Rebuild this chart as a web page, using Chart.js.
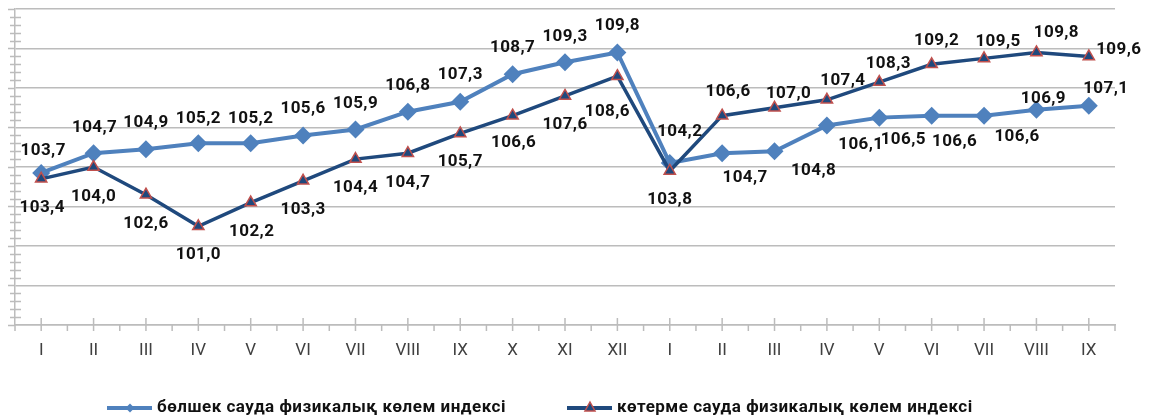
<!DOCTYPE html>
<html><head><meta charset="utf-8">
<script src="https://cdn.jsdelivr.net/npm/chart.js@4.4.1/dist/chart.umd.min.js"></script>
<style>html,body{margin:0;padding:0;background:#fff;}#wrap{width:1154px;height:419px;}</style>
</head><body><div id="wrap"><canvas id="c" width="1154" height="419"></canvas></div>
<script>
const categories = ['I','II','III','IV','V','VI','VII','VIII','IX','X','XI','XII','I','II','III','IV','V','VI','VII','VIII','IX'];
const retailIndex = [103.7,104.7,104.9,105.2,105.2,105.6,105.9,106.8,107.3,108.7,109.3,109.8,104.2,104.7,104.8,106.1,106.5,106.6,106.6,106.9,107.1];
const wholesaleIndex = [103.4,104.0,102.6,101.0,102.2,103.3,104.4,104.7,105.7,106.6,107.6,108.6,103.8,106.6,107.0,107.4,108.3,109.2,109.5,109.8,109.6];
const seriesNames = ['бөлшек сауда физикалық көлем индексі','көтерме сауда физикалық көлем индексі'];
const yMin = 96, yMax = 112, yStep = 2, yMinorStep = 0.4;

// label placement (offset of label centre from its point, px)
const retailLabelOffsets = [[2,-24],[1,-27],[0,-28],[0,-26],[0,-26],[0,-28],[0,-27],[0,-28],[0,-29],[0,-28],[0,-27],[0,-28],[10,-33],[23,23],[39,18],[34,17],[24,20],[23,24],[33,19],[7,-13],[17,-19]];
const wholesaleLabelOffsets = [[1,27],[0,28],[0,27],[0,27],[1,27],[0,27],[0,27],[0,28],[0,27],[1,25],[0,27],[-10,34],[0,27],[6,-26],[14,-16],[16,-21],[9,-20],[5,-25],[14,-18],[20,-21],[30,-8]];

const COL1 = '#4F81BD', COL2 = '#1F497D', RED = '#C0504D', GRID = '#bcbcbc';
const LABEL_FONT = 'bold 17px Roboto';

function fmt(v){ return v.toFixed(1).replace('.', ','); }

const labelPlugin = {
  id: 'valueLabels',
  afterDatasetsDraw(chart){
    const ctx = chart.ctx;
    ctx.save();
    ctx.font = LABEL_FONT;
    ctx.letterSpacing = '0.4px';
    ctx.fillStyle = '#111';
    ctx.textAlign = 'center';
    ctx.textBaseline = 'alphabetic';
    const offs = [retailLabelOffsets, wholesaleLabelOffsets];
    chart.data.datasets.forEach((ds, di) => {
      const meta = chart.getDatasetMeta(di);
      meta.data.forEach((pt, i) => {
        const o = offs[di][i];
        ctx.fillText(fmt(ds.data[i]), pt.x + o[0], pt.y + o[1] + 6);
      });
    });
    ctx.restore();
  }
};

const axisTickPlugin = {
  id: 'axisTicks',
  beforeDatasetsDraw(chart){
    const ctx = chart.ctx, y = chart.scales.y, x = chart.scales.x, a = chart.chartArea;
    ctx.save();
    ctx.strokeStyle = GRID;
    ctx.lineWidth = 1.5;
    ctx.beginPath();
    for (let v = yMin; v <= yMax + 1e-9; v += yMinorStep) {
      const py = Math.round(y.getPixelForValue(v)) + 0.5;
      const isMajor = Math.abs((v - yMin) / yStep - Math.round((v - yMin) / yStep)) < 1e-6;
      if (isMajor) { ctx.moveTo(a.left - 7, py); ctx.lineTo(a.left, py); }
      else { ctx.moveTo(a.left - 5, py); ctx.lineTo(a.left + 6, py); }
    }
    const n = categories.length, w = (a.right - a.left) / n;
    for (let i = 0; i <= n; i++) {
      const px = a.left + i * w;
      ctx.moveTo(px, a.bottom); ctx.lineTo(px, a.bottom + 6);
    }
    for (let i = 0; i < n; i++) {
      const px = x.getPixelForValue(i);
      ctx.moveTo(px, a.bottom - 7); ctx.lineTo(px, a.bottom + 6);
    }
    ctx.stroke();
    ctx.restore();
  }
};

const legendPlugin = {
  id: 'customLegend',
  afterDraw(chart){
    const ctx = chart.ctx, ly = 408;
    ctx.save();
    ctx.strokeStyle = COL1; ctx.lineWidth = 4;
    ctx.beginPath(); ctx.moveTo(107, ly); ctx.lineTo(152, ly); ctx.stroke();
    ctx.fillStyle = COL1;
    ctx.beginPath(); ctx.moveTo(130, ly - 4.5); ctx.lineTo(134.5, ly); ctx.lineTo(130, ly + 4.5); ctx.lineTo(125.5, ly); ctx.closePath(); ctx.fill();
    ctx.strokeStyle = COL2; ctx.lineWidth = 4;
    ctx.beginPath(); ctx.moveTo(567, ly); ctx.lineTo(612, ly); ctx.stroke();
    ctx.fillStyle = COL2; ctx.strokeStyle = RED; ctx.lineWidth = 1.5;
    ctx.beginPath(); ctx.moveTo(590, ly - 6); ctx.lineTo(595, ly + 3); ctx.lineTo(585, ly + 3); ctx.closePath(); ctx.fill(); ctx.stroke();
    ctx.font = 'bold 17px Roboto';
    ctx.letterSpacing = '0.5px';
    ctx.fillStyle = '#111';
    ctx.textBaseline = 'middle';
    ctx.textAlign = 'left';
    ctx.fillText(seriesNames[0], 157, ly);
    ctx.fillText(seriesNames[1], 617, ly);
    ctx.restore();
  }
};

new Chart(document.getElementById('c'), {
  type: 'line',
  data: {
    labels: categories,
    datasets: [
      { label: seriesNames[0], data: retailIndex, borderColor: COL1, backgroundColor: COL1, borderWidth: 4,
        pointStyle: 'rectRot', pointRadius: 9, pointBackgroundColor: COL1, pointBorderColor: COL1, pointBorderWidth: 0,
        tension: 0, order: 1 },
      { label: seriesNames[1], data: wholesaleIndex, borderColor: COL2, backgroundColor: COL2, borderWidth: 3.5,
        pointStyle: 'triangle', pointRadius: 6.5, pointBackgroundColor: COL2, pointBorderColor: RED, pointBorderWidth: 1.5,
        tension: 0, order: 0 }
    ]
  },
  options: {
    responsive: false, animation: false, devicePixelRatio: 1,
    layout: { padding: { top: 8, right: 39, left: 0, bottom: 0 } },
    plugins: { legend: { display: false }, tooltip: { enabled: false } },
    scales: {
      x: {
        type: 'category', offset: true,
        grid: { display: true, drawOnChartArea: false, drawTicks: false },
        border: { display: true, color: GRID, width: 1.5 },
        ticks: { font: { family: 'Roboto', size: 17 }, color: '#404040', padding: 16, maxRotation: 0, autoSkip: false },
        afterFit(s){ s.height = 94; }
      },
      y: {
        min: yMin, max: yMax,
        ticks: { display: false, stepSize: yStep },
        grid: { color: GRID, lineWidth: 1.5, drawTicks: false },
        border: { display: true, color: GRID, width: 1.5 },
        afterFit(s){ s.width = 15; }
      }
    }
  },
  plugins: [axisTickPlugin, labelPlugin, legendPlugin]
});
</script>
</body></html>
